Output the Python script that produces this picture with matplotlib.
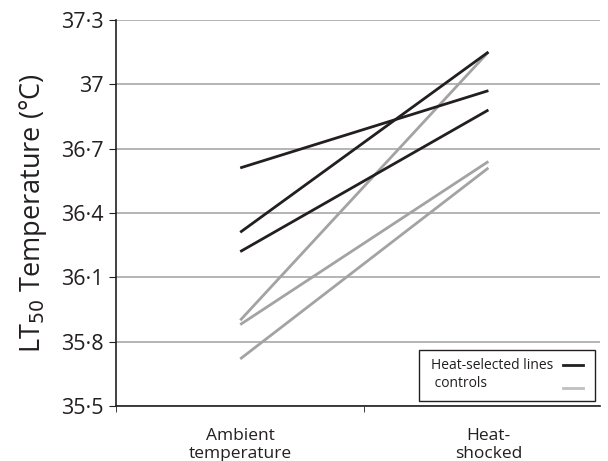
import matplotlib.pyplot as plt
from matplotlib.patches import Rectangle
import numpy as np

plt.rcParams['font.family'] = ['Open Sans', 'DejaVu Sans']

categories = ['Ambient\ntemperature', 'Heat-\nshocked']
selected_ambient = [36.61, 36.31, 36.22]
selected_heat = [36.97, 37.15, 36.88]
control_ambient = [35.90, 35.88, 35.72]
control_heat = [37.15, 36.64, 36.61]
yticks = [35.5, 35.8, 36.1, 36.4, 36.7, 37.0, 37.3]
ytick_labels = ['35·5', '35·8', '36·1', '36·4', '36·7', '37', '37·3']
legend_labels = ['Heat-selected lines', ' controls']

black = '#231f20'
grey = '#a3a3a3'

fig = plt.figure(figsize=(6.08, 4.61), dpi=100)
ax = fig.add_axes([0.191, 0.119, 0.796, 0.838])

x = np.arange(len(categories))
for a, h in zip(selected_ambient, selected_heat):
    ax.plot(x, [a, h], color=black, lw=2, solid_capstyle='butt', zorder=3)
for a, h in zip(control_ambient, control_heat):
    ax.plot(x, [a, h], color=grey, lw=2, solid_capstyle='butt', zorder=2)

ax.set_xlim(-0.5, 1.45)
ax.set_ylim(35.5, 37.3)
ax.set_yticks(yticks)
ax.set_yticklabels(ytick_labels, fontsize=15.5, color=black)
ax.set_xticks(x)
ax.set_xticklabels(categories, fontsize=12.5, color=black, linespacing=1.15)
ax.tick_params(axis='x', length=0, pad=16)
ax.set_xticks([-0.5, 0.5], minor=True)
ax.tick_params(axis='x', which='minor', length=4, direction='out', color=black)
ax.tick_params(axis='y', length=5, direction='out', color=black, pad=4)

ax.yaxis.grid(True, color='#a8a8a8', lw=1.2)
ax.set_axisbelow(True)
for s in ['top', 'right']:
    ax.spines[s].set_visible(False)
for s in ['left', 'bottom']:
    ax.spines[s].set_color(black)
    ax.spines[s].set_linewidth(1.2)

ax.set_ylabel('LT$_{50}$ Temperature (°C)', fontsize=19.5, color=black, labelpad=9)

# legend box, drawn by hand so the labels stay left aligned with keys on the right
ax.add_patch(Rectangle((0.626, 0.013), 0.364, 0.132, transform=ax.transAxes,
                       facecolor='white', edgecolor=black, lw=1, zorder=5, clip_on=False))
ax.text(0.651, 0.106, legend_labels[0], transform=ax.transAxes, fontsize=10,
        va='center', ha='left', color=black, zorder=6)
ax.text(0.651, 0.058, legend_labels[1], transform=ax.transAxes, fontsize=10,
        va='center', ha='left', color=black, zorder=6)
ax.plot([0.924, 0.965], [0.106, 0.106], transform=ax.transAxes, color=black,
        lw=2, zorder=6, clip_on=False)
ax.plot([0.924, 0.965], [0.047, 0.047], transform=ax.transAxes, color='#c0c0c0',
        lw=2, zorder=6, clip_on=False)

fig.savefig('out.png', dpi=100)
